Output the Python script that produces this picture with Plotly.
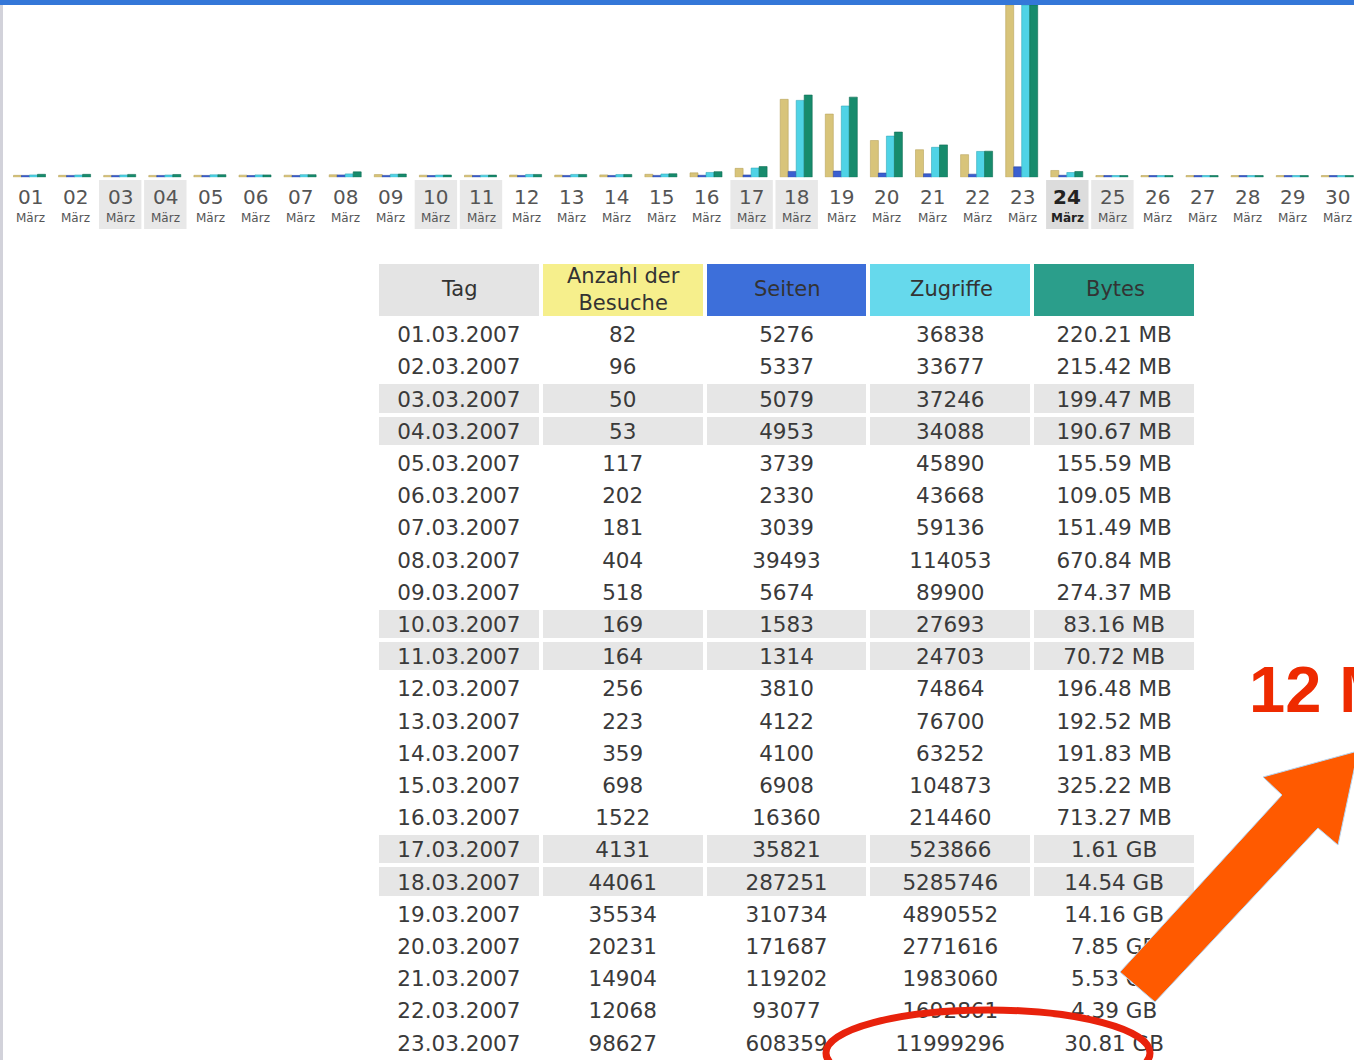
import plotly.graph_objects as go

W, H = 1354, 1060

# ---------------- data ----------------
dates = ["01.03.2007", "02.03.2007", "03.03.2007", "04.03.2007", "05.03.2007", "06.03.2007",
         "07.03.2007", "08.03.2007", "09.03.2007", "10.03.2007", "11.03.2007", "12.03.2007",
         "13.03.2007", "14.03.2007", "15.03.2007", "16.03.2007", "17.03.2007", "18.03.2007",
         "19.03.2007", "20.03.2007", "21.03.2007", "22.03.2007", "23.03.2007"]
visits = [82, 96, 50, 53, 117, 202, 181, 404, 518, 169, 164, 256, 223, 359, 698, 1522, 4131,
          44061, 35534, 20231, 14904, 12068, 98627]
pages = [5276, 5337, 5079, 4953, 3739, 2330, 3039, 39493, 5674, 1583, 1314, 3810, 4122, 4100,
         6908, 16360, 35821, 287251, 310734, 171687, 119202, 93077, 608359]
hits = [36838, 33677, 37246, 34088, 45890, 43668, 59136, 114053, 89900, 27693, 24703, 74864,
        76700, 63252, 104873, 214460, 523866, 5285746, 4890552, 2771616, 1983060, 1692861, 11999296]
bytes_text = ["220.21 MB", "215.42 MB", "199.47 MB", "190.67 MB", "155.59 MB", "109.05 MB",
              "151.49 MB", "670.84 MB", "274.37 MB", "83.16 MB", "70.72 MB", "196.48 MB",
              "192.52 MB", "191.83 MB", "325.22 MB", "713.27 MB", "1.61 GB", "14.54 GB",
              "14.16 GB", "7.85 GB", "5.53 GB", "4.39 GB", "30.81 GB"]

# remaining days of the month shown only in the chart
visits_rest = [2900, 0, 0, 0, 0, 0, 0, 0]
pages_rest = [15000, 0, 0, 0, 0, 0, 0, 0]
hits_rest = [210000, 0, 0, 0, 0, 0, 0, 0]
bytes_rest_mb = [740, 0, 0, 0, 0, 0, 0, 0]

day_labels = ["%02d" % d for d in range(1, 32)]
month_label = "März"
weekend_days = [3, 4, 10, 11, 17, 18, 24, 25, 31]
today = 24

headers = ["Tag", "Anzahl der<br>Besuche", "Seiten", "Zugriffe", "Bytes"]
header_colors = ["#e4e4e4", "#f6ef8c", "#3d6fda", "#66d9ec", "#2b9e8b"]


def to_mb(s):
    v, unit = s.split()
    return float(v) * (1024 if unit == "GB" else 1)


days = list(range(1, 32))
v_all = visits + visits_rest
p_all = pages + pages_rest
h_all = hits + hits_rest
b_all = [to_mb(s) for s in bytes_text] + bytes_rest_mb


def px(x):
    return x / W


def py(y):
    return 1 - y / H


# ---------------- chart ----------------
BASE_PX = 175.5
TOP_PX = 5
bar_h = BASE_PX - TOP_PX
pad = 1.8 / bar_h  # minimal visible stub for tiny bars

vmax = max(v_all)
hmax = max(h_all)
bmax = max(b_all)

day_px = 45.1
x0 = 1 - 30 / day_px
x1 = x0 + W / day_px

bw = 8 / day_px
offs = [-16.5 / day_px + i * bw for i in range(4)]

fig = go.Figure()

series = [
    (v_all, "y", vmax, "#d8c47a", "#b9a55c"),
    (p_all, "y2", hmax, "#3a5fd0", "#2a45a0"),
    (h_all, "y2", hmax, "#4fd3e6", "#33aabb"),
    (b_all, "y3", bmax, "#178b6c", "#0f6d54"),
]
for i, (vals, ax, mx, col, lcol) in enumerate(series):
    fig.add_trace(go.Bar(
        x=days, y=[v + mx * pad for v in vals], base=-mx * pad,
        yaxis=ax, offset=offs[i], width=bw,
        marker=dict(color=col, line=dict(color=lcol, width=0.6)),
        showlegend=False, hoverinfo="skip",
    ))

dom = [py(BASE_PX + 1.8), py(TOP_PX)]
fig.update_layout(
    width=W, height=H,
    margin=dict(l=0, r=0, t=0, b=0),
    paper_bgcolor="white", plot_bgcolor="white",
    barmode="overlay",
    xaxis=dict(range=[x0, x1], visible=False, domain=[0, 1]),
    yaxis=dict(range=[-vmax * pad, vmax], domain=dom, visible=False),
    yaxis2=dict(range=[-hmax * pad, hmax], domain=dom, overlaying="y", visible=False),
    yaxis3=dict(range=[-bmax * pad, bmax], domain=dom, overlaying="y", visible=False),
)

shapes = []
annotations = []

# weekend label backgrounds
for d in weekend_days:
    shapes.append(dict(type="rect", xref="x", yref="paper",
                       x0=d - 0.47, x1=d + 0.47, y0=py(229), y1=py(180),
                       fillcolor="#dcdcdc" if d == today else "#e8e8e8",
                       line=dict(width=0), layer="below"))

for d, lab in zip(days, day_labels):
    bold = d == today
    annotations.append(dict(
        x=d, y=py(197), xref="x", yref="paper", showarrow=False,
        text=("<b>%s</b>" % lab) if bold else lab,
        font=dict(family="DejaVu Sans", size=20, color="#222" if bold else "#555"),
        xanchor="center", yanchor="middle"))
    annotations.append(dict(
        x=d, y=py(218), xref="x", yref="paper", showarrow=False,
        text=("<b>%s</b>" % month_label) if bold else month_label,
        font=dict(family="DejaVu Sans", size=12, color="#222" if bold else "#555"),
        xanchor="center", yanchor="middle"))

# top blue bar and left page edge
shapes.append(dict(type="rect", xref="paper", yref="paper", x0=0, x1=1, y0=py(5), y1=1,
                   fillcolor="#3477d8", line=dict(width=0), layer="above"))
shapes.append(dict(type="rect", xref="paper", yref="paper", x0=0, x1=px(3), y0=0, y1=py(5),
                   fillcolor="#d2d2da", line=dict(width=0), layer="above"))

# ---------------- table ----------------
TBL_L, TBL_R, TBL_T = 377, 1197, 262
HEAD_H = 56
n = len(dates)
row_fill = ["#e6e6e6" if (i + 1) in weekend_days else "white" for i in range(n)]
fig.add_trace(go.Table(
    domain=dict(x=[px(TBL_L), px(TBL_R)], y=[0, py(TBL_T)]),
    columnwidth=[1, 1, 1, 1, 1],
    header=dict(
        values=[""] * len(headers),
        fill_color=header_colors,
        line=dict(color="white", width=4),
        height=HEAD_H,
    ),
    cells=dict(
        values=[dates, visits, pages, hits, bytes_text],
        fill_color=[row_fill] * 5,
        line=dict(color="white", width=4),
        align="center",
        font=dict(family="DejaVu Sans", size=21.5, color="#3a3a3a"),
        height=32.2,
    ),
))

# header labels, centred in the header cells
col_w = (TBL_R - TBL_L) / len(headers)
for i, h in enumerate(headers):
    annotations.append(dict(
        x=px(TBL_L + col_w * (i + 0.5)), y=py(TBL_T + (HEAD_H - 3) / 2 + 0.5),
        xref="paper", yref="paper", showarrow=False, text=h,
        xanchor="center", yanchor="middle",
        font=dict(family="DejaVu Sans", size=21, color="#333")))

# ---------------- annotation overlay ----------------
shapes.append(dict(type="circle", xref="paper", yref="paper",
                   x0=px(826), x1=px(1150), y0=py(1096), y1=py(1010),
                   line=dict(color="#e8220c", width=7), layer="above"))

arrow_pts = [(1120, 972), (1282, 795), (1263, 777), (1358, 751), (1338, 845), (1318, 828),
             (1155, 1002)]
path = "M " + " L ".join("%.5f,%.5f" % (px(a), py(b)) for a, b in arrow_pts) + " Z"
shapes.append(dict(type="path", xref="paper", yref="paper", path=path,
                   fillcolor="#ff5a00", line=dict(color="#b5d6f2", width=1), layer="above"))

annotations.append(dict(x=px(1247), y=py(689), xref="paper", yref="paper", showarrow=False,
                        text="<b>12 Mio.</b>", xanchor="left", yanchor="middle",
                        font=dict(family="Liberation Sans", size=65, color="#ee2a00")))

fig.update_layout(shapes=shapes, annotations=annotations)

fig.write_html("out.html", config={"displayModeBar": False},
               post_script="document.body.style.margin='0';")
